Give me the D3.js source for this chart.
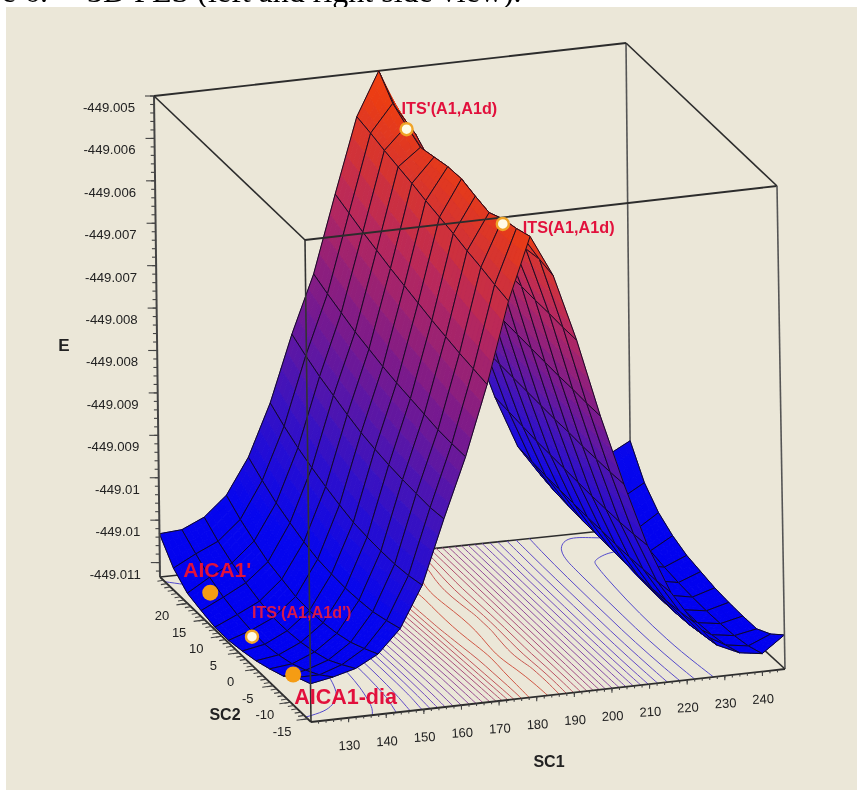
<!DOCTYPE html>
<html>
<head>
<meta charset="utf-8">
<script src="https://cdn.jsdelivr.net/npm/d3@7"></script>
<style>
  html, body { margin: 0; padding: 0; background: #fff; }
  svg { display: block; filter: blur(0.35px); }
  text { font-family: "Liberation Sans", Arial, sans-serif; }
</style>
</head>
<body>
<script>
// grid axes of the surface
const sc1Grid = [120,126,132,138,144,150,156,162,168,174,180,186,192,198,204,210,216,222,228,234,240,246];
const sc2Grid = [-16,-12,-8,-4,0,4,8,12,16,20,24,28];

// energy, as milli-hartree below -449 (one row per SC2 value)
const eRows = [
  [10.22,10.17,10.10,9.96,9.69,9.21,8.46,7.76,6.94,5.99,5.26,5.75,6.54,7.46,8.29,9.04,9.62,10.00,10.30,10.42,10.46,10.27],
  [10.30,10.30,10.21,10.05,9.75,9.25,8.48,7.76,6.91,5.95,5.32,5.71,6.54,7.46,8.30,9.06,9.64,10.03,10.33,10.48,10.52,10.41],
  [10.44,10.40,10.31,10.13,9.80,9.27,8.47,7.75,6.88,5.90,5.36,5.74,6.53,7.45,8.30,9.07,9.65,10.05,10.36,10.51,10.55,10.50],
  [10.51,10.48,10.37,10.18,9.82,9.27,8.46,7.72,6.84,5.86,5.44,5.82,6.53,7.45,8.30,9.07,9.66,10.06,10.37,10.52,10.56,10.50],
  [10.57,10.53,10.41,10.21,9.83,9.26,8.44,7.69,6.80,5.81,5.40,5.79,6.52,7.44,8.29,9.07,9.66,10.06,10.37,10.52,10.56,10.49],
  [10.61,10.56,10.43,10.22,9.82,9.24,8.41,7.66,6.75,5.77,5.35,5.74,6.52,7.43,8.29,9.06,9.65,10.05,10.36,10.50,10.55,10.47],
  [10.64,10.55,10.43,10.21,9.80,9.19,8.37,7.62,6.70,5.73,5.36,5.74,6.51,7.42,8.28,9.05,9.65,10.04,10.34,10.48,10.53,10.43],
  [10.64,10.52,10.39,10.16,9.75,9.13,8.31,7.57,6.65,5.68,5.40,5.79,6.50,7.41,8.27,9.04,9.64,10.03,10.31,10.45,10.50,10.39],
  [10.60,10.47,10.33,10.11,9.68,9.06,8.24,7.52,6.59,5.64,5.44,5.82,6.50,7.40,8.26,9.03,9.63,10.02,10.28,10.41,10.46,10.31],
  [10.55,10.39,10.25,10.02,9.60,8.98,8.17,7.45,6.53,5.60,5.34,5.77,6.49,7.39,8.25,9.01,9.62,10.00,10.24,10.34,10.36,10.19],
  [10.41,10.27,10.15,9.92,9.49,8.88,8.08,7.38,6.46,5.55,5.23,5.62,6.48,7.39,8.24,8.99,9.60,9.98,10.12,10.15,10.14,9.99],
  [10.16,10.14,10.02,9.79,9.37,8.76,7.98,7.30,6.39,5.51,5.00,5.62,6.47,7.38,8.23,8.97,9.58,9.94,9.98,9.90,9.79,9.65]
];

// tick values and labels
const sc1Ticks = [130,140,150,160,170,180,190,200,210,220,230,240];
const sc2Ticks = [-15,-10,-5,0,5,10,15,20];
const eTicks = [5,5.5,6,6.5,7,7.5,8,8.5,9,9.5,10,10.5];
const eTickLabels = ["-449.005","-449.006","-449.006","-449.007","-449.007","-449.008","-449.008","-449.009","-449.009","-449.01","-449.01","-449.011"];

// labelled stationary points: name, SC1, SC2, milli-hartree below -449
const pointNames = ["ITS'(A1,A1d)","ITS(A1,A1d)","AICA1'","ITS'(A1,A1d')","AICA1-dia"];
const pointSc1 = [180,180,122.5,123.8,123.8];
const pointSc2 = [20,-8,16,5.3,-6.7];
const pointE = [5.38,5.42,10.4,10.51,10.49];

// contour levels on the floor, same units
const contourLevels = [10.25,10,9.75,9.5,9.25,9,8.75,8.5,8.25,8,7.75,7.5,7.25,7,6.75,6.5,6.25,6,5.75,5.5,5.25];

const width = 857, height = 790;

// screen position of the eight box corners, [sc1 end][sc2 end][e end]
const corners = {
  "000": [311,722], "100": [785,669], "010": [160,577], "110": [631,528],
  "001": [305,240], "101": [777,186], "011": [154,96],  "111": [626,43]
};

const sc1Scale = d3.scaleLinear().domain([120,246]).range([0,1]);
const sc2Scale = d3.scaleLinear().domain([-16,28]).range([0,1]);
const eScale = d3.scaleLinear().domain([10.67,5]).range([0,1]);

function project(u, v, w) {
  let out = [0,0];
  for (let a = 0; a < 2; a++) for (let b = 0; b < 2; b++) for (let c = 0; c < 2; c++) {
    let k = (a ? u : 1-u) * (b ? v : 1-v) * (c ? w : 1-w);
    let p = corners["" + a + b + c];
    out[0] += k * p[0];
    out[1] += k * p[1];
  }
  return out;
}

const lineGen = d3.line();
const contourLine = d3.line().curve(d3.curveBasis);
const closedPath = pts => lineGen(pts) + "Z";

const colorScale = d3.scaleLinear()
  .domain([0,0.15,0.35,0.55,0.75,0.95,1])
  .range(["#0000f0","#0606ee","#3a12c0","#7a1a8c","#b8285c","#ea3c14","#f04010"]);

const contourColor = d3.scaleLinear()
  .domain([0,0.3,0.6,0.95])
  .range(["#4a4ad0","#6a4cc4","#9a4c90","#d85a3c"]);

const svg = d3.select("body").append("svg").attr("width", width).attr("height", height);

// caption cut off by the picture
const caption = (t, x, anchor) => svg.append("text").attr("x", x).attr("y", 2)
  .attr("font-size", 32).attr("fill", "#000").attr("text-anchor", anchor)
  .style("font-family", "'Liberation Serif', serif")
  .text(t);
caption("Figure 6.", 48, "end");
caption("3D PES (left and right side view).", 87, "start");

svg.append("rect").attr("x", 6).attr("y", 7).attr("width", width-6).attr("height", height-7).attr("fill", "#ebe7d8");

const edge = (g, a, b, w, c) => g.append("path")
  .attr("d", lineGen([corners[a], corners[b]]))
  .attr("stroke", c || "#2c2c2c").attr("stroke-width", w || 1.6).attr("fill", "none");

// back of the box, behind everything
const back = svg.append("g");
edge(back, "010", "110");
edge(back, "110", "100");
edge(back, "110", "111", 1.6, "#555");
edge(back, "011", "111", 1.8);

// contours on the floor
const flat = [];
eRows.forEach(r => r.forEach(m => flat.push(-m)));
const contourGen = d3.contours().size([sc1Grid.length, sc2Grid.length]).thresholds(contourLevels.map(m => -m));
const colToSc1 = d3.scaleLinear().domain([0, sc1Grid.length-1]).range([120,246]);
const rowToSc2 = d3.scaleLinear().domain([0, sc2Grid.length-1]).range([-16,28]);

const contourRuns = [];
contourGen(flat).forEach(c => {
  c.coordinates.forEach(poly => poly.forEach(ring => {
    let run = [];
    ring.forEach(pt => {
      let gx = pt[0] - 0.5, gy = pt[1] - 0.5;
      if (gx >= 0 && gx <= sc1Grid.length-1 && gy >= 0 && gy <= sc2Grid.length-1) {
        run.push(project(sc1Scale(colToSc1(gx)), sc2Scale(rowToSc2(gy)), 0));
      } else {
        if (run.length > 1) contourRuns.push({ level: -c.value, pts: run });
        run = [];
      }
    });
    if (run.length > 1) contourRuns.push({ level: -c.value, pts: run });
  }));
});

svg.append("g").selectAll("path").data(contourRuns).join("path")
  .attr("d", d => contourLine(d.pts))
  .attr("fill", "none")
  .attr("stroke", d => contourColor(eScale(d.level)))
  .attr("stroke-width", 1);

// surface, cells painted from the far corner towards the viewer
const SUB = 4;
const surface = svg.append("g");
const cellPoint = (j, i, s, t) => {
  let e = (1-s)*(1-t)*eRows[i][j] + s*(1-t)*eRows[i][j+1] + (1-s)*t*eRows[i+1][j] + s*t*eRows[i+1][j+1];
  let sc1 = sc1Grid[j] + s*(sc1Grid[j+1]-sc1Grid[j]);
  let sc2 = sc2Grid[i] + t*(sc2Grid[i+1]-sc2Grid[i]);
  return { xy: project(sc1Scale(sc1), sc2Scale(sc2), eScale(e)), w: eScale(e) };
};

for (let i = sc2Grid.length-2; i >= 0; i--) {
  for (let j = sc1Grid.length-2; j >= 0; j--) {
    let patches = [];
    for (let b = SUB-1; b >= 0; b--) for (let a = SUB-1; a >= 0; a--) {
      let q = [[a,b],[a+1,b],[a+1,b+1],[a,b+1]].map(c => cellPoint(j, i, c[0]/SUB, c[1]/SUB));
      patches.push({ pts: q.map(p => p.xy), w: d3.mean(q, p => p.w) });
    }
    let cell = surface.append("g");
    cell.selectAll("path").data(patches).join("path")
      .attr("d", d => closedPath(d.pts))
      .attr("fill", d => colorScale(d.w))
      .attr("stroke", d => colorScale(d.w))
      .attr("stroke-width", 0.9);
    let outline = [[0,0],[1,0],[1,1],[0,1]].map(c => cellPoint(j, i, c[0], c[1]).xy);
    cell.append("path")
      .attr("d", closedPath(outline))
      .attr("fill", "none")
      .attr("stroke", "#100820")
      .attr("stroke-width", 0.95);
  }
}

// front of the box, over the surface
const front = svg.append("g");
edge(front, "011", "010", 2, "#444");
edge(front, "011", "001");
edge(front, "001", "101", 1.8);
edge(front, "101", "111");
edge(front, "001", "000", 1.6, "#333");
edge(front, "101", "100", 1.6, "#555");
edge(front, "010", "000", 1.8);
edge(front, "000", "100", 1.8);

// tick marks
function drawTicks(g, values, toStart, dx, dy) {
  g.selectAll(null).data(values).join("path")
    .attr("d", d => { let p = toStart(d); return lineGen([p, [p[0]+dx, p[1]+dy]]); })
    .attr("stroke", "#444").attr("stroke-width", 1.1).attr("fill", "none");
}
const sc1Pos = d => project(sc1Scale(d), 0, 0);
const sc2Pos = d => project(0, sc2Scale(d), 0);
const ePos = d => project(0, 1, eScale(d));

const axes = svg.append("g");
drawTicks(axes, d3.range(122, 246, 2), sc1Pos, 0, 2.5);
drawTicks(axes, sc1Ticks, sc1Pos, 0, 4.5);
drawTicks(axes, d3.range(-15, 28, 1), sc2Pos, -6, 1);
drawTicks(axes, sc2Ticks, sc2Pos, -11, 1.5);
drawTicks(axes, d3.range(5, 10.67, 0.1), ePos, -4, 0);
drawTicks(axes, eTicks, ePos, -9, 0);

const tickText = "#222";
axes.selectAll(null).data(sc1Ticks).join("text")
  .attr("transform", d => { let p = sc1Pos(d); return `translate(${p[0]+1},${p[1]+32}) rotate(-3)`; })
  .attr("text-anchor", "middle").attr("font-size", 13).attr("fill", tickText)
  .text(d => d);
axes.selectAll(null).data(sc2Ticks).join("text")
  .attr("x", d => sc2Pos(d)[0]-25.5)
  .attr("y", d => sc2Pos(d)[1]+17)
  .attr("text-anchor", "middle").attr("font-size", 13).attr("fill", tickText)
  .text(d => d);
axes.selectAll(null).data(eTicks).join("text")
  .attr("x", d => ePos(d)[0]-19)
  .attr("y", d => ePos(d)[1]+16)
  .attr("text-anchor", "end").attr("font-size", 13.2).attr("fill", tickText)
  .text((d, i) => eTickLabels[i]);

const axisLabel = (t, x, y, s) => axes.append("text")
  .attr("x", x).attr("y", y).attr("text-anchor", "middle")
  .attr("font-size", s).attr("font-weight", "bold").attr("fill", "#222").text(t);
axisLabel("E", 64, 351, 17);
axisLabel("SC2", 225, 720, 16);
axisLabel("SC1", 549, 767, 16);

// stationary points
const points = pointNames.map((name, i) => ({
  name,
  xy: project(sc1Scale(pointSc1[i]), sc2Scale(pointSc2[i]), eScale(pointE[i])),
  saddle: name.indexOf("ITS") == 0
}));
const labelOffset = {
  "ITS'(A1,A1d)": [-5,-15,16.2,"#e2103c"],
  "ITS(A1,A1d)": [20,9,16.2,"#e2103c"],
  "AICA1'": [-27,-16,21,"#e2103c"],
  "ITS'(A1,A1d')": [0,-19,16.2,"#d8184c"],
  "AICA1-dia": [1,30,21.5,"#e2103c"]
};
const pts = svg.append("g");
pts.selectAll("circle").data(points).join("circle")
  .attr("cx", d => d.xy[0]).attr("cy", d => d.xy[1])
  .attr("r", d => d.saddle ? 6 : 8)
  .attr("fill", d => d.saddle ? "#fffbe6" : "#f59c14")
  .attr("stroke", d => d.saddle ? "#f0a428" : "none")
  .attr("stroke-width", 2.4);
pts.selectAll("text").data(points).join("text")
  .attr("x", d => d.xy[0] + labelOffset[d.name][0])
  .attr("y", d => d.xy[1] + labelOffset[d.name][1])
  .attr("font-size", d => labelOffset[d.name][2])
  .attr("font-weight", "bold")
  .attr("fill", d => labelOffset[d.name][3])
  .text(d => d.name);
</script>
</body>
</html>
